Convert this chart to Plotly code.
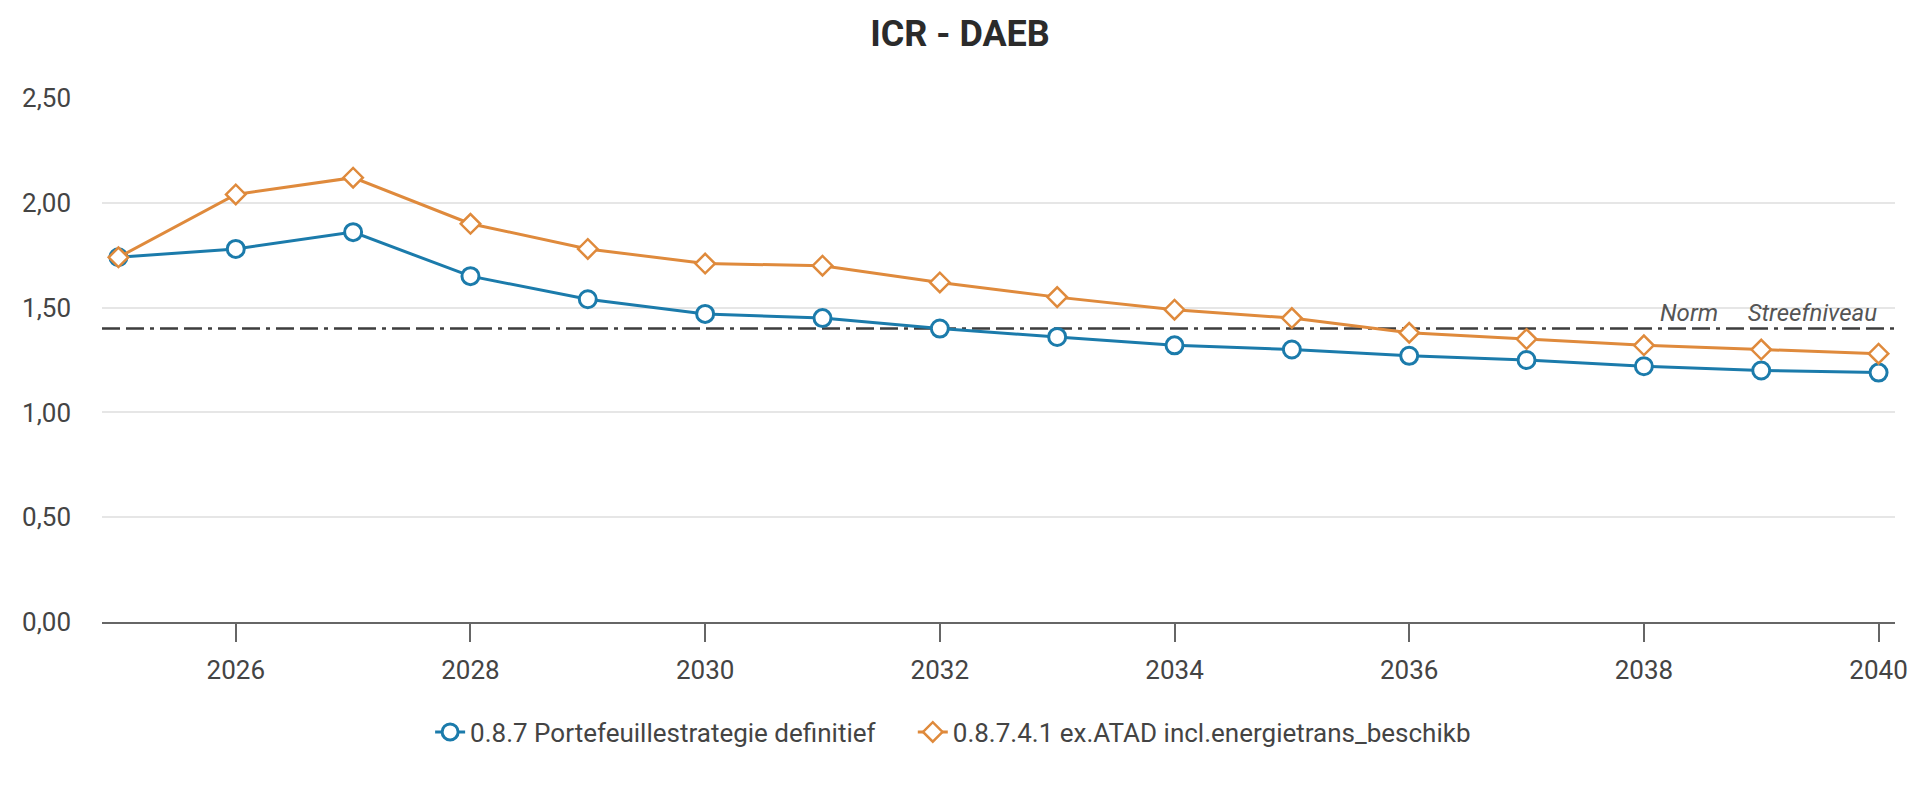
import plotly.graph_objects as go

# ICR per jaar
years = list(range(2025, 2041))
portefeuille = [1.74, 1.78, 1.86, 1.65, 1.54, 1.47, 1.45, 1.40, 1.36, 1.32,
                1.30, 1.27, 1.25, 1.22, 1.20, 1.19]
atad = [1.74, 2.04, 2.12, 1.90, 1.78, 1.71, 1.70, 1.62, 1.55, 1.49,
        1.45, 1.38, 1.35, 1.32, 1.30, 1.28]
norm_value = 1.40
norm_span = [2024.86, 2040.14]

BLUE = "#1b7bab"
ORANGE = "#df8a3c"

fig = go.Figure()

# Norm / Streefniveau lijn
fig.add_trace(go.Scatter(
    x=norm_span, y=[norm_value, norm_value],
    mode="lines", line=dict(color="#3d3d3d", width=2.5, dash="18px,6px,18px,6px,4px,6px"),
    showlegend=False, hoverinfo="skip"))

fig.add_trace(go.Scatter(
    x=years, y=portefeuille, mode="lines+markers",
    name="0.8.7 Portefeuillestrategie definitief&nbsp;&nbsp;&nbsp;&nbsp;&nbsp;",
    line=dict(color=BLUE, width=3),
    marker=dict(symbol="circle", size=17, color="white", line=dict(color=BLUE, width=3))))

fig.add_trace(go.Scatter(
    x=years, y=atad, mode="lines+markers",
    name="0.8.7.4.1 ex.ATAD incl.energietrans_beschikb",
    line=dict(color=ORANGE, width=3),
    marker=dict(symbol="diamond", size=15, color="white", line=dict(color=ORANGE, width=2.5))))

fig.add_annotation(x=1, xref="paper", y=norm_value, yref="y",
                   text="Norm&nbsp;&nbsp;&nbsp;&nbsp;&nbsp;Streefniveau", showarrow=False,
                   xanchor="right", yanchor="bottom", xshift=-16, yshift=0,
                   font=dict(size=24, color="#555555", family="Roboto", style="italic"))

fig.update_layout(
    width=1920, height=799,
    paper_bgcolor="white", plot_bgcolor="white",
    separators=",.",
    font=dict(family="Roboto", size=25, color="#444444"),
    title=dict(text="<b>ICR - DAEB</b>", x=0.5, xanchor="center",
               y=1 - 33 / 799, yanchor="middle",
               font=dict(size=36, color="#2b2b2b", family="Roboto")),
    margin=dict(l=102, r=20, t=98, b=177),
    legend=dict(orientation="h", x=0.183, xanchor="left", y=-0.21, yanchor="middle",
                font=dict(size=26, color="#444444"), itemwidth=30),
)

fig.update_xaxes(range=norm_span, tick0=2026, dtick=2,
                 showgrid=False, zeroline=False,
                 showline=True, linecolor="#666666", linewidth=2,
                 ticks="outside", ticklen=18, tickwidth=2, tickcolor="#666666",
                 ticklabelstandoff=6,
                 tickfont=dict(size=26, color="#444444"))
fig.update_yaxes(range=[0, 2.5], dtick=0.5, tickformat=".2f",
                 showgrid=True, gridcolor="#e6e6e6", gridwidth=2,
                 zeroline=False, showline=False, ticklabelstandoff=30,
                 tickfont=dict(size=26, color="#444444"))

fig.write_html("out.html", config={"displayModeBar": False},
               post_script="document.body.style.margin='0';document.body.style.overflow='hidden';")
